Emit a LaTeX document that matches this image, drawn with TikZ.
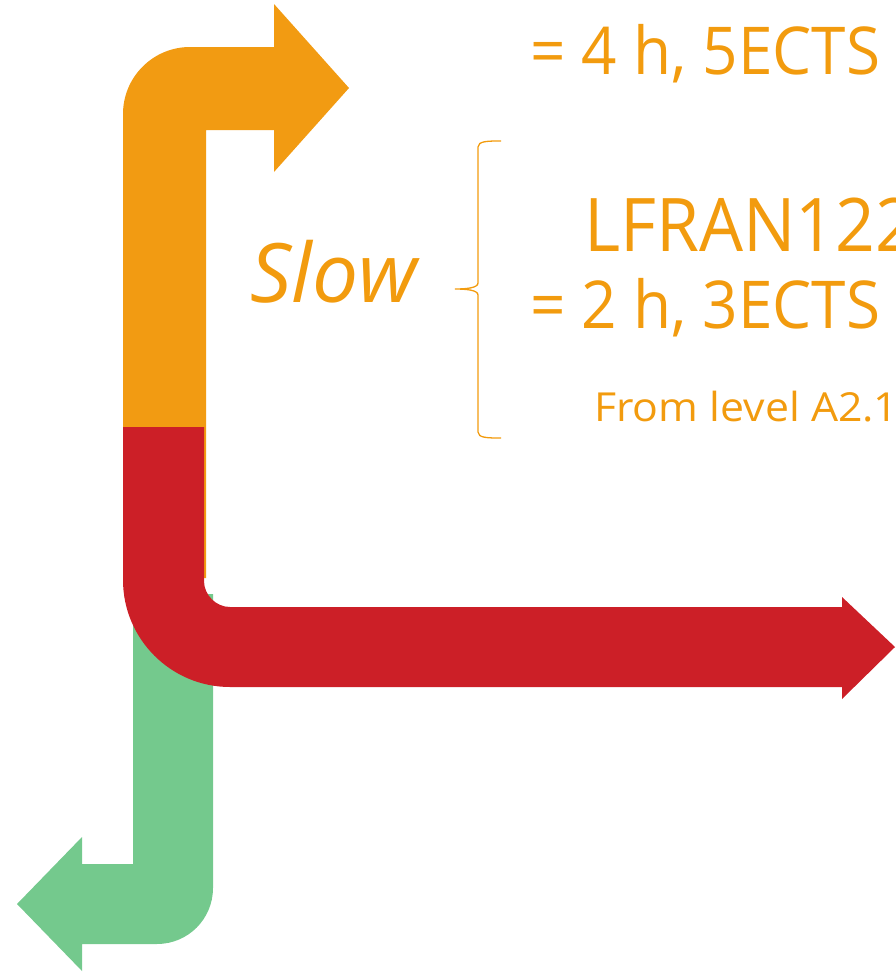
\documentclass[tikz,border=0pt]{standalone}
\usepackage{fontspec}
\setmainfont{Open Sans}
\definecolor{myorange}{HTML}{F29B12}
\definecolor{myred}{HTML}{CC1F27}
\definecolor{mygreen}{HTML}{74C98D}
\definecolor{txtorange}{HTML}{F29B0E}
\begin{document}
\begin{tikzpicture}[x=1pt,y=-1pt,
  lbl/.style={inner sep=0pt,anchor=base west,text=txtorange},
  big/.style={lbl,font=\fontsize{66}{66}\selectfont},
  small/.style={lbl,font=\fontsize{40}{40}\selectfont}]
\useasboundingbox (0,0) rectangle (895,972);
% green arrow (bottom layer)
\fill[mygreen] (133,594) -- (213,594) -- (213,888)
  .. controls (213,919) and (188,944) .. (157,944)
  -- (82,944) -- (82,971) -- (17,904) -- (82,837) -- (82,864) -- (133,864) -- cycle;
% orange arrow
\fill[myorange] (123,578) -- (123,114)
  .. controls (123,77) and (153,47) .. (190,47)
  -- (274,47) -- (274,4) -- (349,88) -- (274,172) -- (274,130)
  -- (206,130) -- (206,578) -- cycle;
% red arrow
\fill[myred] (123,427) -- (204,427) -- (204,581)
  .. controls (204,595) and (216,607) .. (230,607)
  -- (842,607) -- (842,597) -- (895,647) -- (842,699) -- (842,687)
  -- (230,687) .. controls (171,687) and (123,639) .. (123,580) -- cycle;
% brace
\draw[txtorange,line width=1.3pt] (501,141) .. controls (488,141) and (478,141) .. (478,147)
  -- (478,283) .. controls (478,288) and (466,289) .. (455,289)
  .. controls (466,289) and (478,290) .. (478,295)
  -- (478,432) .. controls (478,438) and (488,438) .. (501,438);
% texts
\node[big] (t1) at (530,74) {\scalebox{0.94}[1]{= 4 h, 5ECTS}};
\node[lbl,font=\fontsize{74}{74}\selectfont] (t2) at (584,251) {\scalebox{0.94}[1]{LFRAN122}};
\node[big] (t3) at (530,328) {\scalebox{0.94}[1]{= 2 h, 3ECTS}};
\node[small] (t4) at (594,421) {\scalebox{1.07}[1]{From level A2.1}};
\node[lbl,font=\fontsize{82}{82}\selectfont\itshape] (slow) at (250,302) {Slow};
\end{tikzpicture}
\end{document}
